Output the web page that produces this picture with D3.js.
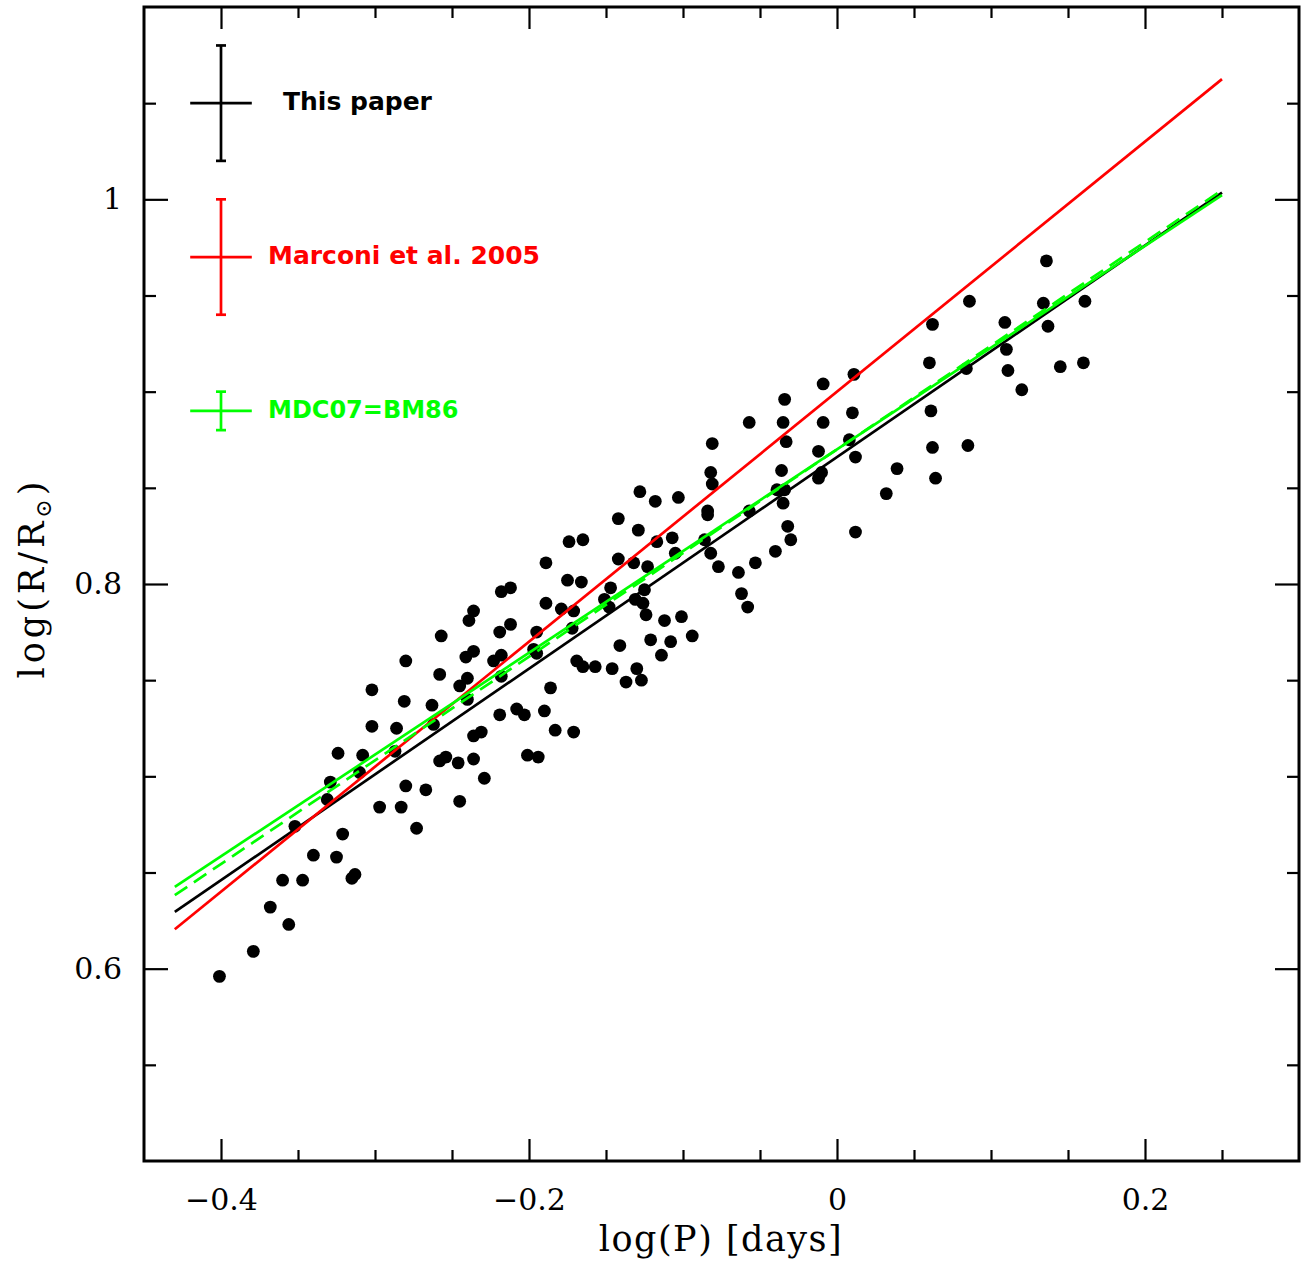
<!DOCTYPE html>
<html><head><meta charset="utf-8">
<script src="https://cdn.jsdelivr.net/npm/d3@7"></script>
<style>
html,body{margin:0;padding:0;background:#fff;}
svg{display:block;}
</style>
</head><body>
<svg id="chart" width="1302" height="1268"></svg>
<script>
// ---- data ----
const logP = [-0.401,-0.379,-0.356,-0.368,-0.360,-0.347,-0.340,-0.325,-0.321,-0.315,-0.313,-0.352,-0.331,-0.329,-0.324,-0.308,-0.310,-0.297,-0.283,-0.280,-0.273,-0.267,-0.302,-0.302,-0.286,-0.287,-0.281,-0.280,-0.263,-0.262,-0.258,-0.257,-0.258,-0.254,-0.246,-0.245,-0.245,-0.240,-0.241,-0.239,-0.236,-0.236,-0.240,-0.236,-0.231,-0.236,-0.229,-0.218,-0.212,-0.219,-0.212,-0.223,-0.218,-0.218,-0.219,-0.208,-0.203,-0.189,-0.189,-0.195,-0.197,-0.195,-0.186,-0.190,-0.183,-0.171,-0.201,-0.194,-0.174,-0.165,-0.175,-0.166,-0.179,-0.171,-0.172,-0.169,-0.165,-0.157,-0.142,-0.129,-0.128,-0.118,-0.103,-0.142,-0.132,-0.123,-0.147,-0.151,-0.148,-0.125,-0.131,-0.126,-0.124,-0.141,-0.146,-0.130,-0.137,-0.127,-0.117,-0.107,-0.105,-0.112,-0.101,-0.108,-0.121,-0.114,-0.094,-0.082,-0.081,-0.084,-0.084,-0.086,-0.082,-0.077,-0.064,-0.062,-0.058,-0.053,-0.081,-0.057,-0.057,-0.040,-0.036,-0.039,-0.034,-0.035,-0.032,-0.030,-0.035,-0.033,-0.034,-0.009,-0.009,-0.012,-0.010,-0.012,0.011,0.010,0.008,0.012,0.012,0.032,0.039,0.060,0.062,0.061,0.062,0.064,0.085,0.084,0.086,0.109,0.110,0.111,0.120,0.134,0.136,0.137,0.145,0.160,0.161];
const logR = [0.596,0.609,0.623,0.632,0.646,0.646,0.659,0.658,0.670,0.647,0.649,0.674,0.688,0.697,0.712,0.711,0.702,0.684,0.684,0.695,0.673,0.693,0.745,0.726,0.725,0.713,0.739,0.760,0.737,0.727,0.753,0.773,0.708,0.710,0.707,0.687,0.747,0.751,0.762,0.781,0.786,0.765,0.740,0.721,0.723,0.709,0.699,0.796,0.798,0.775,0.779,0.760,0.763,0.752,0.732,0.735,0.732,0.811,0.790,0.775,0.766,0.764,0.746,0.734,0.724,0.723,0.711,0.710,0.822,0.823,0.802,0.801,0.787,0.786,0.777,0.760,0.757,0.757,0.834,0.828,0.848,0.843,0.845,0.813,0.811,0.809,0.798,0.792,0.788,0.797,0.792,0.790,0.784,0.768,0.756,0.756,0.749,0.750,0.822,0.824,0.816,0.781,0.783,0.770,0.771,0.763,0.773,0.858,0.852,0.838,0.836,0.823,0.816,0.809,0.806,0.795,0.788,0.811,0.873,0.884,0.838,0.817,0.859,0.849,0.849,0.842,0.830,0.823,0.884,0.874,0.896,0.904,0.884,0.869,0.858,0.855,0.909,0.889,0.875,0.866,0.827,0.847,0.860,0.915,0.935,0.890,0.871,0.855,0.872,0.912,0.947,0.936,0.922,0.911,0.901,0.946,0.968,0.934,0.913,0.915,0.947];

// fitted relations: intercept + slope * logP, drawn over a logP range
const fitNames = ["This paper","Marconi et al. 2005","MDC07=BM86","MDC07 (dashed)"];
const fitIntercepts = [0.866, 0.900, 0.870, 0.870];
const fitSlopes = [0.550, 0.650, 0.529, 0.539];
const fitRange = [-0.43, 0.25];

// legend error bars: centre (logP, logR), half-widths in logP and logR
const legendLabels = ["This paper","Marconi et al. 2005","MDC07=BM86"];
const legendCenterP = [-0.40, -0.40, -0.40];
const legendCenterR = [1.050, 0.970, 0.890];
const legendErrP = [0.020, 0.020, 0.020];
const legendErrR = [0.030, 0.030, 0.010];

const xMajor = [-0.4,-0.2,0,0.2];
const xMinor = [-0.35,-0.3,-0.25,-0.15,-0.1,-0.05,0.05,0.1,0.15,0.25];
const yMajor = [0.6,0.8,1.0];
const yMinor = [0.55,0.65,0.7,0.75,0.85,0.9,0.95,1.05];
const xTickLabels = ["\u22120.4","\u22120.2","0","0.2"];
const yTickLabels = ["0.6","0.8","1"];

// ---- drawing ----
const M = {left:144, right:1299, top:7, bottom:1161};
const svg = d3.select("#chart");
const x = d3.scaleLinear().domain([-0.45,0.30]).range([M.left, M.right]);
const y = d3.scaleLinear().domain([0.5,1.1]).range([M.bottom, M.top]);

const fitColors = ["#000000","#ff0000","#00ff00","#00ff00"];
const fitDash = [null,null,null,"15,8"];

// points
svg.append("g").selectAll("circle").data(logP.map((p,i)=>[p,logR[i]])).join("circle")
  .attr("cx",d=>x(d[0])).attr("cy",d=>y(d[1])).attr("r",6.4).attr("fill","#000");

// lines
fitIntercepts.forEach((a,i)=>{
  const b = fitSlopes[i];
  svg.append("line")
    .attr("x1",x(fitRange[0])).attr("y1",y(a+b*fitRange[0]))
    .attr("x2",x(fitRange[1])).attr("y2",y(a+b*fitRange[1]))
    .attr("stroke",fitColors[i]).attr("stroke-width",2.7)
    .attr("stroke-dasharray",fitDash[i]);
});

// legend
const legColors = ["#000000","#ff0000","#00ff00"];
legendLabels.forEach((lab,i)=>{
  const g = svg.append("g").attr("stroke",legColors[i]).attr("stroke-width",2.7);
  const cx=x(legendCenterP[i]), cy=y(legendCenterR[i]);
  const y0=y(legendCenterR[i]-legendErrR[i]), y1=y(legendCenterR[i]+legendErrR[i]);
  g.append("line").attr("x1",x(legendCenterP[i]-legendErrP[i])).attr("x2",x(legendCenterP[i]+legendErrP[i])).attr("y1",cy).attr("y2",cy);
  g.append("line").attr("x1",cx).attr("x2",cx).attr("y1",y0).attr("y2",y1);
  g.append("line").attr("x1",cx-5).attr("x2",cx+5).attr("y1",y0).attr("y2",y0);
  g.append("line").attr("x1",cx-5).attr("x2",cx+5).attr("y1",y1).attr("y2",y1);
  svg.append("text").attr("x", i===0?283:268).attr("y",cy+7)
    .attr("font-family","DejaVu Sans").attr("font-weight","bold").attr("font-size",i===2?24:25)
    .attr("fill",legColors[i]).text(lab);
});

// axes ticks
function drawAxis(axis, tr, vals, size, labels){
  const g = svg.append("g").attr("transform",tr)
    .call(axis.tickValues(vals).tickSizeInner(size).tickSizeOuter(0).tickFormat((d,i)=>labels?labels[i]:""));
  g.select(".domain").remove();
  g.selectAll(".tick line").attr("stroke","#000").attr("stroke-width",2.2);
  g.selectAll(".tick text").attr("font-family","DejaVu Serif").attr("font-size",30).attr("fill","#000");
  return g;
}
// bottom
const gb = drawAxis(d3.axisBottom(x), `translate(0,${M.bottom})`, xMajor, -22, xTickLabels);
gb.selectAll(".tick text").attr("dy",null).attr("y",49);
drawAxis(d3.axisBottom(x), `translate(0,${M.bottom})`, xMinor, -11, null);
// top
drawAxis(d3.axisTop(x), `translate(0,${M.top})`, xMajor, -22, null);
drawAxis(d3.axisTop(x), `translate(0,${M.top})`, xMinor, -11, null);
// left
const gl = drawAxis(d3.axisLeft(y), `translate(${M.left},0)`, yMajor, -24, yTickLabels);
gl.selectAll(".tick text").attr("x",-22);
drawAxis(d3.axisLeft(y), `translate(${M.left},0)`, yMinor, -12, null);
// right
drawAxis(d3.axisRight(y), `translate(${M.right},0)`, yMajor, -24, null);
drawAxis(d3.axisRight(y), `translate(${M.right},0)`, yMinor, -12, null);

// frame
svg.append("rect").attr("x",M.left).attr("y",M.top).attr("width",M.right-M.left).attr("height",M.bottom-M.top)
  .attr("fill","none").attr("stroke","#000").attr("stroke-width",3);

// axis titles
svg.append("text").attr("x",721).attr("y",1251).attr("text-anchor","middle")
  .attr("font-family","DejaVu Serif").attr("font-size",35).attr("letter-spacing",1.5).text("log(P) [days]");
const yt = svg.append("text").attr("transform",`translate(44,578) rotate(-90)`)
  .attr("text-anchor","middle").attr("font-family","DejaVu Serif").attr("font-size",35).attr("letter-spacing",4);
yt.append("tspan").text("log(R/R");
yt.append("tspan").attr("font-size",22).attr("dy",7).text("\u2299");
yt.append("tspan").attr("dy",-7).text(")");
</script>
</body></html>
